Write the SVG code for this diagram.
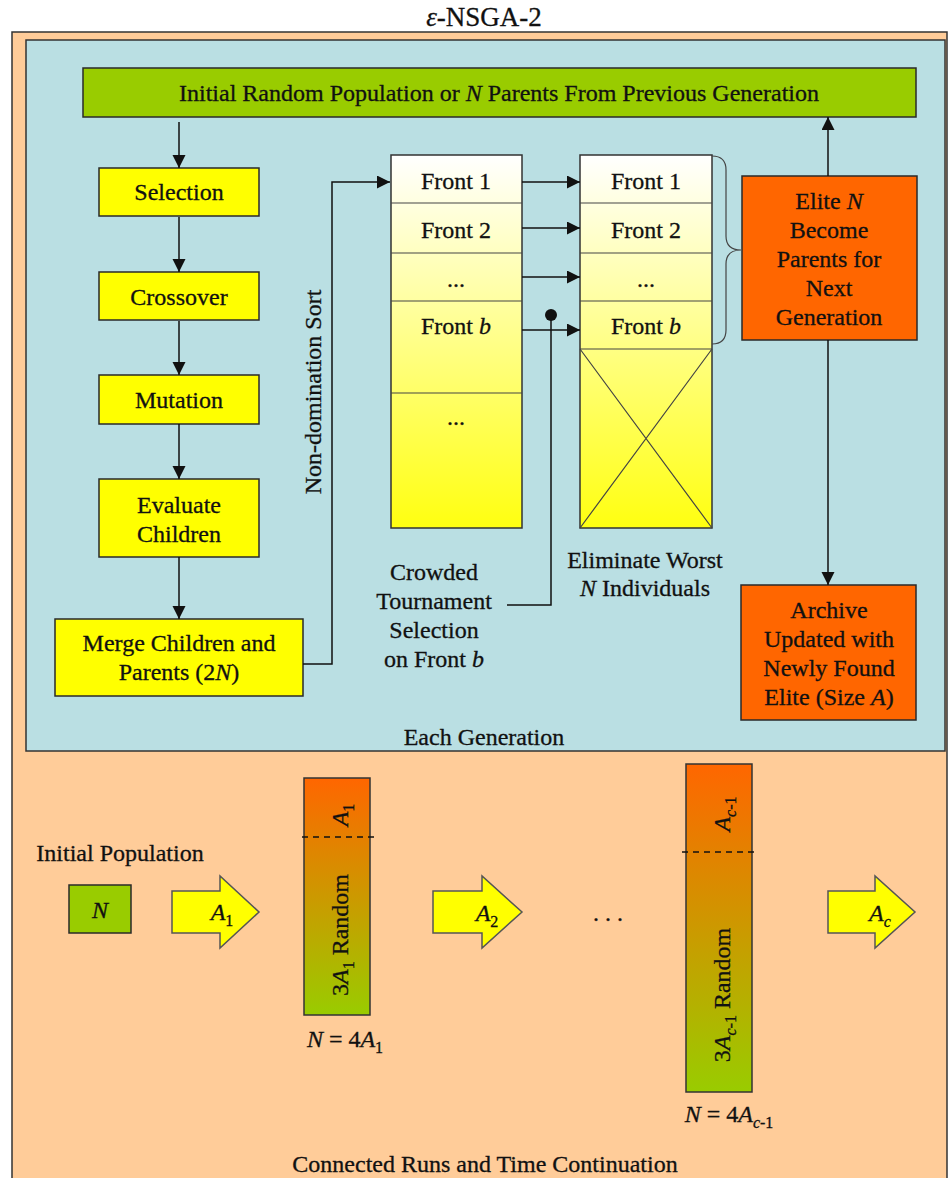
<svg xmlns="http://www.w3.org/2000/svg" width="948" height="1178" viewBox="0 0 948 1178">
<style>
text{font-family:"Liberation Serif","Times New Roman",serif;font-size:24px;fill:#111;text-anchor:middle;stroke:#111;stroke-width:0.3}
.t{font-size:27px}
.i{font-style:italic}
.box{stroke:#2a2a2a;stroke-width:1.5}
.yel{fill:#FFFF00}
.org{fill:#FF6600}
.grn{fill:#99CC00}
.ln{fill:none;stroke:#111;stroke-width:1.5}
.thin{fill:none;stroke:#444;stroke-width:1.2}
.dash{fill:none;stroke:#111;stroke-width:1.5;stroke-dasharray:6 5}
.barrow{fill:#FFFF00;stroke:#555;stroke-width:1.5}
</style>
<defs>
<marker id="ah" markerUnits="userSpaceOnUse" markerWidth="14" markerHeight="14" refX="13" refY="6.5" orient="auto">
<path d="M0,0 L13,6.5 L0,13 z" fill="#111"/>
</marker>
<linearGradient id="fy" x1="0" y1="0" x2="0" y2="1">
<stop offset="0" stop-color="#FFFFFF"/>
<stop offset="1" stop-color="#FFFF10"/>
</linearGradient>
<linearGradient id="og" x1="0" y1="0" x2="0" y2="1">
<stop offset="0" stop-color="#FF6600"/>
<stop offset="1" stop-color="#99CC00"/>
</linearGradient>
</defs>

<text class="t" x="484" y="26"><tspan class="i">ε</tspan>-NSGA-2</text>

<g id="frame">
<rect x="12" y="32" width="935" height="1160" fill="#FFCC99" stroke="#333" stroke-width="1.5"/>
<rect x="26" y="40" width="919" height="711" fill="#BADFE3" stroke="#333" stroke-width="1.5"/>
<text x="484" y="745">Each Generation</text>
<text x="485" y="1172">Connected Runs and Time Continuation</text>
</g>

<g id="initbar">
<rect class="box grn" x="83" y="68" width="833" height="49"/>
<text x="499" y="101">Initial Random Population or <tspan class="i">N</tspan> Parents From Previous Generation</text>
</g>

<g id="selection">
<rect class="box yel" x="99" y="168" width="160" height="48"/>
<text x="179" y="200">Selection</text>
</g>
<g id="crossover">
<rect class="box yel" x="99" y="272" width="160" height="48"/>
<text x="179" y="305">Crossover</text>
</g>
<g id="mutation">
<rect class="box yel" x="99" y="375" width="160" height="49"/>
<text x="179" y="408">Mutation</text>
</g>
<g id="evaluate">
<rect class="box yel" x="99" y="479" width="160" height="78"/>
<text x="179" y="513">Evaluate</text>
<text x="179" y="542">Children</text>
</g>
<g id="merge">
<rect class="box yel" x="55" y="619" width="248" height="77"/>
<text x="179" y="651">Merge Children and</text>
<text x="179" y="680">Parents (2<tspan class="i">N</tspan>)</text>
</g>

<g id="sortlabel">
<text transform="translate(321,392) rotate(-90)">Non-domination Sort</text>
</g>

<g id="fronts-left">
<rect x="391" y="155" width="131" height="373" fill="url(#fy)" stroke="#333" stroke-width="1.5"/>
<path class="thin" d="M391,203H522M391,253H522M391,301H522M391,393H522"/>
<text x="456" y="189">Front 1</text>
<text x="456" y="238">Front 2</text>
<text x="456" y="287">...</text>
<text x="456" y="334">Front <tspan class="i">b</tspan></text>
<text x="456" y="425">...</text>
</g>

<g id="fronts-right">
<rect x="580" y="155" width="132" height="373" fill="url(#fy)" stroke="#333" stroke-width="1.5"/>
<path class="thin" d="M580,203H712M580,253H712M580,301H712M580,349H712"/>
<path class="thin" d="M580,349L712,528M712,349L580,528"/>
<text x="646" y="189">Front 1</text>
<text x="646" y="238">Front 2</text>
<text x="646" y="287">...</text>
<text x="646" y="334">Front <tspan class="i">b</tspan></text>
</g>

<g id="brace">
<path class="thin" d="M712,156 Q726,156 726,170 V236 Q726,250 741,250 Q726,250 726,264 V330 Q726,344 712,344"/>
</g>

<g id="crowded">
<text x="434" y="580">Crowded</text>
<text x="434" y="609">Tournament</text>
<text x="434" y="638">Selection</text>
<text x="434" y="667">on Front <tspan class="i">b</tspan></text>
</g>

<g id="eliminate">
<text x="645" y="568">Eliminate Worst</text>
<text x="645" y="596"><tspan class="i">N</tspan> Individuals</text>
</g>

<g id="elite">
<rect class="box org" x="742" y="176" width="175" height="164"/>
<text x="829" y="209">Elite <tspan class="i">N</tspan></text>
<text x="829" y="238">Become</text>
<text x="829" y="267">Parents for</text>
<text x="829" y="296">Next</text>
<text x="829" y="325">Generation</text>
</g>

<g id="archive">
<rect class="box org" x="741" y="585" width="175" height="135"/>
<text x="829" y="618">Archive</text>
<text x="829" y="647">Updated with</text>
<text x="829" y="676">Newly Found</text>
<text x="829" y="705">Elite (Size <tspan class="i">A</tspan>)</text>
</g>

<g id="connectors">
<path class="ln" d="M179,122V168" marker-end="url(#ah)"/>
<path class="ln" d="M179,217V272" marker-end="url(#ah)"/>
<path class="ln" d="M179,321V375" marker-end="url(#ah)"/>
<path class="ln" d="M179,424V479" marker-end="url(#ah)"/>
<path class="ln" d="M179,557V619" marker-end="url(#ah)"/>
<path class="ln" d="M303,664H332V182H390" marker-end="url(#ah)"/>
<path class="ln" d="M522,182H580" marker-end="url(#ah)"/>
<path class="ln" d="M522,228H580" marker-end="url(#ah)"/>
<path class="ln" d="M522,277H580" marker-end="url(#ah)"/>
<path class="ln" d="M522,330H580" marker-end="url(#ah)"/>
<path class="ln" d="M507,605H551V315"/>
<circle cx="551" cy="315" r="6" fill="#111"/>
<path class="ln" d="M828,176V117" marker-end="url(#ah)"/>
<path class="ln" d="M828,340V585" marker-end="url(#ah)"/>
</g>

<g id="initpop">
<text x="120" y="861">Initial Population</text>
<rect class="box grn" x="69" y="885" width="62" height="48"/>
<text x="100" y="918" class="i">N</text>
</g>

<g id="arrow-a1">
<path class="barrow" d="M172,891H220V876L259,912L220,948V933H172z"/>
<text x="222" y="920"><tspan class="i">A</tspan><tspan font-size="16" dy="6">1</tspan></text>
</g>

<g id="col1">
<rect x="304" y="778" width="66" height="237" fill="url(#og)" stroke="#333" stroke-width="1.5"/>
<path class="dash" d="M302,837H374"/>
<text transform="translate(348,815) rotate(-90)"><tspan class="i">A</tspan><tspan font-size="16" dy="6">1</tspan></text>
<text transform="translate(348,935) rotate(-90)">3<tspan class="i">A</tspan><tspan font-size="16" dy="6">1</tspan><tspan dy="-6"> Random</tspan></text>
<text x="345" y="1047"><tspan class="i">N</tspan> = 4<tspan class="i">A</tspan><tspan font-size="16" dy="6">1</tspan></text>
</g>

<g id="arrow-a2">
<path class="barrow" d="M433,891H482V876L522,912L482,948V933H433z"/>
<text x="487" y="921"><tspan class="i">A</tspan><tspan font-size="16" dy="6">2</tspan></text>
</g>

<text x="611" y="921" letter-spacing="6">...</text>

<g id="col2">
<rect x="686" y="764" width="66" height="328" fill="url(#og)" stroke="#333" stroke-width="1.5"/>
<path class="dash" d="M682,852H756"/>
<text transform="translate(730,814) rotate(-90)"><tspan class="i">A</tspan><tspan font-size="16" dy="6"><tspan class="i">c</tspan>-1</tspan></text>
<text transform="translate(730,995) rotate(-90)">3<tspan class="i">A</tspan><tspan font-size="16" dy="6"><tspan class="i">c</tspan>-1</tspan><tspan dy="-6"> Random</tspan></text>
<text x="729" y="1122"><tspan class="i">N</tspan> = 4<tspan class="i">A</tspan><tspan font-size="16" dy="6"><tspan class="i">c</tspan>-1</tspan></text>
</g>

<g id="arrow-ac">
<path class="barrow" d="M828,891H875V876L915,912L875,948V933H828z"/>
<text x="880" y="921"><tspan class="i">A</tspan><tspan font-size="16" dy="6" class="i">c</tspan></text>
</g>
</svg>
